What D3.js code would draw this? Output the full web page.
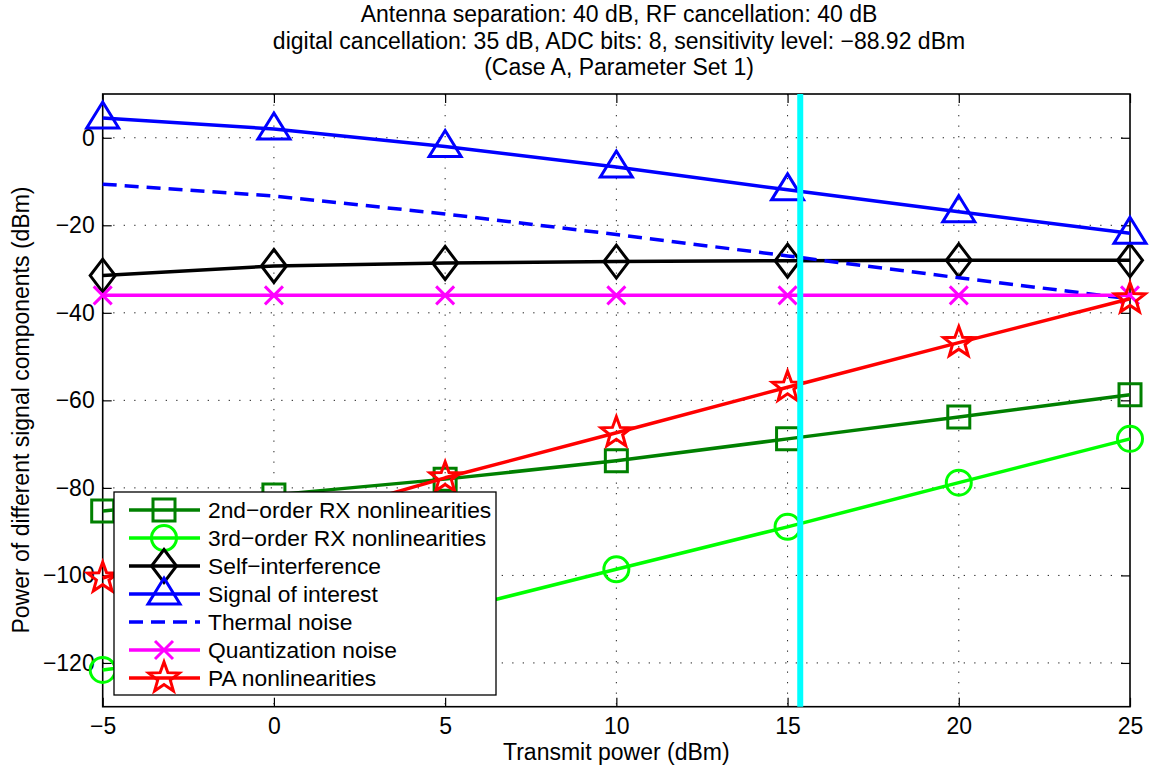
<!DOCTYPE html>
<html>
<head>
<meta charset="utf-8">
<script src="https://cdn.jsdelivr.net/npm/d3@7"></script>
<style>
  html, body { margin: 0; padding: 0; background: #fff; }
  svg { display: block; font-family: "Liberation Sans", Arial, Helvetica, sans-serif; }
</style>
</head>
<body>
<svg id="chart" width="1156" height="769"></svg>
<script>
// ---- data ----
const txPower = [-5, 0, 5, 10, 15, 20, 25];
const rx2nd   = [-85.3, -81.6, -78.0, -73.8, -68.8, -63.8, -58.7];
const rx3rd   = [-121.6, -116.5, -108.4, -98.6, -88.9, -78.8, -68.8];
const selfInt = [-31.5, -29.3, -28.6, -28.3, -28.1, -28.0, -28.0];
const soi     = [4.5, 2.0, -2.0, -6.7, -11.9, -16.9, -21.8];
const thermal = [-10.6, -13.3, -17.4, -22.1, -27.0, -32.0, -36.8];
const quant   = [-36, -36, -36, -36, -36, -36, -36];
const paNl    = [-100.6, -89.0, -77.7, -67.4, -57.0, -46.8, -36.8];
const cyanX   = 15.37;
const xTicks  = [-5, 0, 5, 10, 15, 20, 25];
const yTicks  = [0, -20, -40, -60, -80, -100, -120];
const titleLines = [
  "Antenna separation: 40 dB, RF cancellation: 40 dB",
  "digital cancellation: 35 dB, ADC bits: 8, sensitivity level: \u221288.92 dBm",
  "(Case A, Parameter Set 1)"
];
const seriesNames = [
  "2nd\u2212order RX nonlinearities",
  "3rd\u2212order RX nonlinearities",
  "Self\u2212interference",
  "Signal of interest",
  "Thermal noise",
  "Quantization noise",
  "PA nonlinearities"
];

// ---- layout ----
const L = 102.7, R = 1130, T = 94, B = 706.7;
const FS = 23;
const svg = d3.select("#chart");
const x = d3.scaleLinear().domain([-5, 25]).range([L, R]);
const y = d3.scaleLinear().domain([-130, 10]).range([B, T]);

// marker shapes
function starPath(ro, ri) {
  let p = [];
  for (let i = 0; i < 10; i++) {
    const r = i % 2 === 0 ? ro : ri;
    const a = -Math.PI / 2 + i * Math.PI / 5;
    p.push([r * Math.cos(a), r * Math.sin(a)]);
  }
  return "M" + p.map(d => d[0].toFixed(2) + "," + d[1].toFixed(2)).join("L") + "Z";
}
const markerPaths = {
  square: "M-11,-11L11,-11L11,11L-11,11Z",
  circle: "M12.5,0A12.5,12.5 0 1,1 -12.5,0A12.5,12.5 0 1,1 12.5,0Z",
  diamond: "M0,-16.5L12.5,0L0,16.5L-12.5,0Z",
  triangle: "M0,-16L16,10L-16,10Z",
  cross: "M-9,-9L9,9M-9,9L9,-9",
  star: starPath(16, 6.6),
  none: null
};

const series = [
  {name: seriesNames[0], vals: rx2nd,   color: "#008000", marker: "square",   dash: null},
  {name: seriesNames[1], vals: rx3rd,   color: "#00ff00", marker: "circle",   dash: null},
  {name: seriesNames[2], vals: selfInt, color: "#000000", marker: "diamond",  dash: null},
  {name: seriesNames[3], vals: soi,     color: "#0000ff", marker: "triangle", dash: null},
  {name: seriesNames[4], vals: thermal, color: "#0000ff", marker: "none",     dash: "14,8"},
  {name: seriesNames[5], vals: quant,   color: "#ff00ff", marker: "cross",    dash: null},
  {name: seriesNames[6], vals: paNl,    color: "#ff0000", marker: "star",     dash: null}
];

// background
svg.append("rect").attr("x", L).attr("y", T).attr("width", R - L).attr("height", B - T).attr("fill", "#fff");

// grid
const grid = svg.append("g");
grid.selectAll("line.gx").data(xTicks.slice(1, -1)).enter().append("line")
  .attr("x1", d => x(d)).attr("x2", d => x(d)).attr("y1", T).attr("y2", B)
  .attr("stroke", "#222").attr("stroke-width", 1).attr("stroke-dasharray", "1.3,9.2");
grid.selectAll("line.gy").data(yTicks).enter().append("line")
  .attr("y1", d => y(d)).attr("y2", d => y(d)).attr("x1", L).attr("x2", R)
  .attr("stroke", "#222").attr("stroke-width", 1).attr("stroke-dasharray", "1.3,9.2");

// axes (inside ticks, MATLAB-style)
const fmt = d => d < 0 ? "\u2212" + Math.abs(d) : d;
const xAxisB = d3.axisBottom(x).tickValues(xTicks).tickSizeInner(-9).tickSizeOuter(0)
  .tickPadding(11).tickFormat(fmt);
const gxB = svg.append("g").attr("transform", `translate(0,${B})`).call(xAxisB);
const xAxisT = d3.axisTop(x).tickValues(xTicks).tickSizeInner(-9).tickSizeOuter(0).tickFormat("");
const gxT = svg.append("g").attr("transform", `translate(0,${T})`).call(xAxisT);
const yAxisL = d3.axisLeft(y).tickValues(yTicks).tickSizeInner(-9).tickSizeOuter(0)
  .tickPadding(8).tickFormat(fmt);
const gyL = svg.append("g").attr("transform", `translate(${L},0)`).call(yAxisL);
const yAxisR = d3.axisRight(y).tickValues(yTicks).tickSizeInner(-9).tickSizeOuter(0).tickFormat("");
const gyR = svg.append("g").attr("transform", `translate(${R},0)`).call(yAxisR);
[gxB, gxT, gyL, gyR].forEach(g => {
  g.select(".domain").remove();
  g.selectAll(".tick line").attr("stroke", "#000").attr("stroke-width", 1.2);
  g.selectAll(".tick text").attr("fill", "#000").attr("font-size", FS)
    .attr("font-family", "'Liberation Sans', Arial, sans-serif");
});

// box
svg.append("rect").attr("x", L).attr("y", T).attr("width", R - L).attr("height", B - T)
  .attr("fill", "none").attr("stroke", "#000").attr("stroke-width", 1.6);

// series
const line = d3.line().x((d, i) => x(txPower[i])).y(d => y(d));
const plot = svg.append("g");
series.forEach(s => {
  const g = plot.append("g");
  g.append("path").datum(s.vals).attr("d", line)
    .attr("fill", "none").attr("stroke", s.color).attr("stroke-width", 3.5)
    .attr("stroke-dasharray", s.dash).attr("stroke-linejoin", "round");
  if (markerPaths[s.marker]) {
    g.selectAll("path.m").data(s.vals).enter().append("path")
      .attr("class", "m")
      .attr("transform", (d, i) => `translate(${x(txPower[i])},${y(d)})`)
      .attr("d", markerPaths[s.marker])
      .attr("fill", "none").attr("stroke", s.color).attr("stroke-width", 3)
      .attr("stroke-linejoin", "miter");
  }
});

// cyan vertical line
svg.append("line").attr("x1", x(cyanX)).attr("x2", x(cyanX)).attr("y1", T).attr("y2", B)
  .attr("stroke", "#00ffff").attr("stroke-width", 6);

// legend
const lg = svg.append("g");
const lgX = 114, lgY = 492, lgW = 382, lgH = 203, rowH = 28.0, row0 = 510;
lg.append("rect").attr("x", lgX).attr("y", lgY).attr("width", lgW).attr("height", lgH)
  .attr("fill", "#fff").attr("stroke", "#000").attr("stroke-width", 1.3);
series.forEach((s, i) => {
  const cy = row0 + i * rowH;
  lg.append("line").attr("x1", 129).attr("x2", 200).attr("y1", cy).attr("y2", cy)
    .attr("stroke", s.color).attr("stroke-width", 3.5).attr("stroke-dasharray", s.dash);
  if (markerPaths[s.marker]) {
    lg.append("path").attr("transform", `translate(164,${cy})`).attr("d", markerPaths[s.marker])
      .attr("fill", "none").attr("stroke", s.color).attr("stroke-width", 3);
  }
  lg.append("text").attr("x", 208).attr("y", cy).attr("dy", "0.36em")
    .attr("font-size", 22.8).attr("fill", "#000").text(s.name);
});

// titles
const tg = svg.append("g");
titleLines.forEach((t, i) => {
  tg.append("text").attr("x", 619).attr("y", 22 + i * 26.5).attr("text-anchor", "middle")
    .attr("font-size", FS).attr("fill", "#000").text(t);
});

// axis labels
svg.append("text").attr("x", (L + R) / 2).attr("y", 760).attr("text-anchor", "middle")
  .attr("font-size", FS).attr("fill", "#000").text("Transmit power (dBm)");
svg.append("text").attr("transform", `translate(29,410) rotate(-90)`)
  .attr("text-anchor", "middle").attr("font-size", FS).attr("fill", "#000")
  .text("Power of different signal components (dBm)");
</script>
</body>
</html>
